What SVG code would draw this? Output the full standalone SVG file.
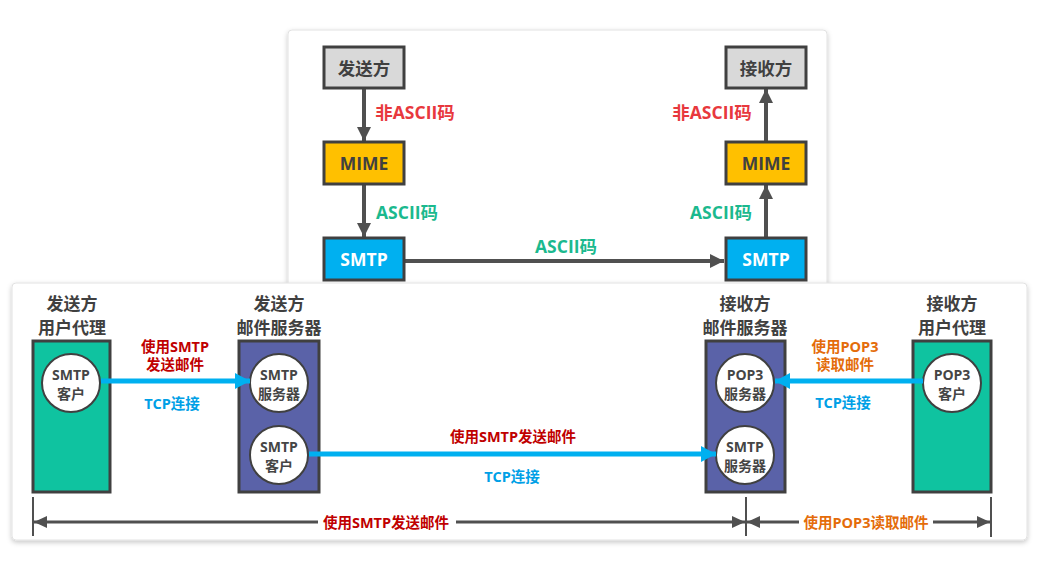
<svg xmlns="http://www.w3.org/2000/svg" width="1054" height="573" viewBox="0 0 1054 573">
<style>
text{font-family:"Open Sans","Noto Sans CJK SC",sans-serif;font-weight:bold;text-anchor:middle;dominant-baseline:central}
.panel{fill:#fff;stroke:#e2e2e2;stroke-width:1}
.box{stroke:#404040;stroke-width:3}
.gray{fill:#d9d9d9}
.mime{fill:#ffc000}
.smtp{fill:#00b0f0}
.agent{fill:#0fc3a0;stroke:#404040;stroke-width:3}
.server{fill:#5a62a8;stroke:#404040;stroke-width:3}
.circ{fill:#fff;stroke:#404040;stroke-width:2}
.bt{font-size:17.5px;fill:#404040}
.wt{font-size:17.5px;fill:#fff}
.hd{font-size:17px;fill:#404040}
.ct{font-size:14px;font-weight:bold;fill:#454545}
.halo{stroke:#fff;stroke-width:3;paint-order:stroke;stroke-linejoin:round}
.red{font-size:17.5px;fill:#e8383d}
.grn{font-size:17.5px;fill:#1bb98e}
.dred{font-size:14.5px;fill:#c00000}
.org{font-size:14.5px;fill:#e46c0a}
.blu{font-size:14.5px;fill:#00a0e6}
.ga{stroke:#505050;stroke-width:4;fill:none}
.ba{stroke:#00b0f0;stroke-width:5;fill:none}
.dl{stroke:#505050;stroke-width:3;fill:none}
.tk{stroke:#505050;stroke-width:2;fill:none}
</style>
<defs>
<filter id="sh" x="-5%" y="-5%" width="110%" height="115%">
<feDropShadow dx="0" dy="2" stdDeviation="2.5" flood-color="#000" flood-opacity="0.22"/>
</filter>
<marker id="mg" markerUnits="userSpaceOnUse" markerWidth="16" markerHeight="16" refX="14" refY="8" orient="auto">
<path d="M0,1 L14,8 L0,15 Z" fill="#505050"/>
</marker>
<marker id="mb" markerUnits="userSpaceOnUse" markerWidth="18" markerHeight="18" refX="15" refY="9" orient="auto">
<path d="M0,1 L15,9 L0,17 Z" fill="#00b0f0"/>
</marker>
<marker id="md" markerUnits="userSpaceOnUse" markerWidth="14" markerHeight="14" refX="13" refY="7" orient="auto">
<path d="M0,1 L13,7 L0,13 Z" fill="#505050"/>
</marker>
</defs>

<g id="top-panel">
<rect class="panel" x="288" y="30" width="539" height="262" rx="4" filter="url(#sh)"/>
</g>

<g id="top-connectors">
<line class="ga" x1="364" y1="89" x2="364" y2="141" marker-end="url(#mg)"/>
<line class="ga" x1="364" y1="185" x2="364" y2="237" marker-end="url(#mg)"/>
<line class="ga" x1="404" y1="261" x2="724" y2="261" marker-end="url(#mg)"/>
<line class="ga" x1="766" y1="237" x2="766" y2="185" marker-end="url(#mg)"/>
<line class="ga" x1="766" y1="141" x2="766" y2="89" marker-end="url(#mg)"/>
<text class="red halo" x="415" y="112">非ASCII码</text>
<text class="grn halo" x="407" y="212">ASCII码</text>
<text class="grn halo" x="566" y="246">ASCII码</text>
<text class="red halo" x="712" y="112">非ASCII码</text>
<text class="grn halo" x="721" y="212">ASCII码</text>
</g>

<g id="sender-top"><rect class="box gray" x="324" y="47" width="80" height="41"/><text class="bt" x="364" y="68">发送方</text></g>
<g id="mime-left"><rect class="box mime" x="324" y="142" width="80" height="42"/><text class="bt" x="364" y="163">MIME</text></g>
<g id="smtp-left"><rect class="box smtp" x="324" y="238" width="80" height="42"/><text class="wt" x="364" y="259">SMTP</text></g>
<g id="receiver-top"><rect class="box gray" x="726" y="47" width="80" height="41"/><text class="bt" x="766" y="68">接收方</text></g>
<g id="mime-right"><rect class="box mime" x="726" y="142" width="80" height="42"/><text class="bt" x="766" y="163">MIME</text></g>
<g id="smtp-right"><rect class="box smtp" x="726" y="238" width="80" height="42"/><text class="wt" x="766" y="259">SMTP</text></g>

<g id="bottom-panel">
<rect class="panel" x="12" y="283" width="1015" height="257" rx="4" filter="url(#sh)"/>
</g>

<g id="sender-agent">
<text class="hd" x="72" y="303">发送方</text>
<text class="hd" x="72" y="327">用户代理</text>
<rect class="agent" x="33" y="341" width="77" height="151"/>
<circle class="circ" cx="71" cy="383" r="29"/>
<text class="ct" x="71" y="374">SMTP</text>
<text class="ct" x="71" y="393">客户</text>
</g>

<g id="sender-server">
<text class="hd" x="279" y="303">发送方</text>
<text class="hd" x="279" y="327">邮件服务器</text>
<rect class="server" x="239" y="341" width="80" height="151"/>
<circle class="circ" cx="279" cy="383" r="29"/>
<text class="ct" x="279" y="374">SMTP</text>
<text class="ct" x="279" y="393">服务器</text>
<circle class="circ" cx="279" cy="455" r="29"/>
<text class="ct" x="279" y="446">SMTP</text>
<text class="ct" x="279" y="465">客户</text>
</g>

<g id="receiver-server">
<text class="hd" x="745" y="303">接收方</text>
<text class="hd" x="745" y="327">邮件服务器</text>
<rect class="server" x="706" y="341" width="79" height="151"/>
<circle class="circ" cx="745" cy="383" r="29"/>
<text class="ct" x="745" y="374">POP3</text>
<text class="ct" x="745" y="393">服务器</text>
<circle class="circ" cx="745" cy="455" r="29"/>
<text class="ct" x="745" y="446">SMTP</text>
<text class="ct" x="745" y="465">服务器</text>
</g>

<g id="receiver-agent">
<text class="hd" x="952" y="303">接收方</text>
<text class="hd" x="952" y="327">用户代理</text>
<rect class="agent" x="913" y="341" width="78" height="151"/>
<circle class="circ" cx="952" cy="383" r="29"/>
<text class="ct" x="952" y="374">POP3</text>
<text class="ct" x="952" y="393">客户</text>
</g>

<g id="bottom-connectors">
<line class="ba" x1="101" y1="381" x2="250" y2="381" marker-end="url(#mb)"/>
<line class="ba" x1="309" y1="454" x2="716" y2="454" marker-end="url(#mb)"/>
<line class="ba" x1="923" y1="381" x2="775" y2="381" marker-end="url(#mb)"/>
<text class="dred" x="175" y="346">使用SMTP</text>
<text class="dred" x="175" y="364">发送邮件</text>
<text class="blu" x="172" y="403">TCP连接</text>
<text class="dred" x="513" y="436">使用SMTP发送邮件</text>
<text class="blu" x="512" y="476">TCP连接</text>
<text class="org" x="845" y="346">使用POP3</text>
<text class="org" x="845" y="364">读取邮件</text>
<text class="blu" x="843" y="402">TCP连接</text>

<line class="tk" x1="33" y1="497" x2="33" y2="536"/>
<line class="tk" x1="746" y1="497" x2="746" y2="536"/>
<line class="tk" x1="991" y1="497" x2="991" y2="537"/>
<line class="dl" x1="318" y1="522" x2="34" y2="522" marker-end="url(#md)"/>
<line class="dl" x1="456" y1="522" x2="745" y2="522" marker-end="url(#md)"/>
<line class="dl" x1="799" y1="522" x2="747" y2="522" marker-end="url(#md)"/>
<line class="dl" x1="933" y1="522" x2="990" y2="522" marker-end="url(#md)"/>
<text class="dred" x="386" y="522">使用SMTP发送邮件</text>
<text class="org" x="866" y="522">使用POP3读取邮件</text>
</g>
</svg>
